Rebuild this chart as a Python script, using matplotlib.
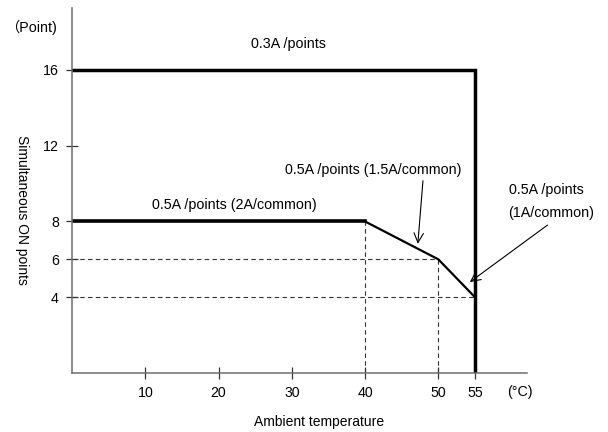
import matplotlib
matplotlib.use("Agg")
import matplotlib.pyplot as plt

plt.rcParams['font.family'] = ['Liberation Sans', 'DejaVu Sans']

# Derating curves
temp_03 = [0, 55, 55]
points_03 = [16, 16, 0]
temp_05_flat = [0, 40]
points_05_flat = [8, 8]
temp_05_slope = [40, 50, 55]
points_05_slope = [8, 6, 4]

x_ticks = [10, 20, 30, 40, 50, 55]
y_ticks = [4, 6, 8, 12, 16]

fig = plt.figure(figsize=(6.08, 4.32), dpi=100)
ax = fig.add_axes([72 / 608, 59 / 432, 455 / 608, 365 / 432])
ax.set_xlim(0, 62.1)
ax.set_ylim(0, 19.27)

axis_color = '#6e6e6e'
for side in ('top', 'right'):
    ax.spines[side].set_visible(False)
for side in ('left', 'bottom'):
    ax.spines[side].set_color(axis_color)
    ax.spines[side].set_linewidth(1.1)

ax.set_xticks(x_ticks)
ax.set_yticks(y_ticks)
ax.tick_params(axis='both', direction='inout', length=9, width=0.9,
               color='#333333', labelsize=10.2, labelcolor='black')
ax.tick_params(axis='x', pad=5)
ax.tick_params(axis='y', pad=5)

# Dashed guide lines
guide = dict(color='#333333', lw=0.8, dashes=(4, 3))
ax.plot([0, 50], [6, 6], **guide)
ax.plot([0, 55], [4, 4], **guide)
ax.plot([40, 40], [0, 8], **guide)
ax.plot([50, 50], [0, 6], **guide)

# Curves
ax.plot(temp_03, points_03, color='black', lw=2.5, solid_joinstyle='miter')
ax.plot(temp_05_flat, points_05_flat, color='black', lw=2.6)
ax.plot(temp_05_slope, points_05_slope, color='black', lw=1.6)

fs = 10.3
ax.text(29.5, 17.37, '0.3A /points', ha='center', va='center', fontsize=fs)
ax.text(22.2, 8.87, '0.5A /points (2A/common)', ha='center', va='center', fontsize=fs)
ax.text(41.1, 10.72, '0.5A /points (1.5A/common)', ha='center', va='center', fontsize=fs)
ax.text(59.7, 9.66, '0.5A /points', ha='left', va='center', fontsize=fs, clip_on=False)
ax.text(59.5, 8.45, '(1A/common)', ha='left', va='center', fontsize=fs, clip_on=False)

arrow = dict(arrowstyle='->', color='black', lw=0.8, mutation_scale=17,
             shrinkA=0, shrinkB=0)
ax.annotate('', xy=(47.2, 6.82), xytext=(47.9, 10.15), arrowprops=arrow,
            annotation_clip=False)
ax.annotate('', xy=(54.3, 4.8), xytext=(64.9, 7.81), arrowprops=arrow,
            annotation_clip=False)

# Units and axis titles
fig.text(57 / 608, 1 - 27 / 432, '（Point)', ha='right', va='center', fontsize=fs,
         family=['Liberation Sans', 'Noto Sans CJK JP'])
fig.text(520 / 608, 1 - 392 / 432, '(°C)', ha='center', va='center', fontsize=fs)
fig.text(22 / 608, 1 - 210 / 432, 'Simultaneous ON points', ha='center',
         va='center', rotation=-90, fontsize=10)
fig.text(319 / 608, 1 - 422 / 432, 'Ambient temperature', ha='center',
         va='center', fontsize=10)

fig.savefig('out.png', dpi=100)
